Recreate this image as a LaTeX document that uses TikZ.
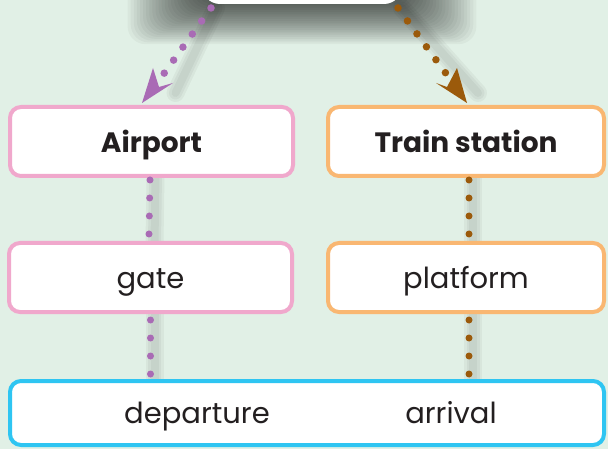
\documentclass[tikz,border=0pt]{standalone}
\usepackage{fontspec}
\setmainfont{Poppins}
\usetikzlibrary{calc}
\pgfdeclarelayer{background}
\pgfdeclarelayer{shade}
\pgfsetlayers{background,shade,main}
\definecolor{bg}{HTML}{E1F0E6}
\definecolor{pinkc}{HTML}{F0A8CC}
\definecolor{orangec}{HTML}{F9B772}
\definecolor{bluec}{HTML}{2EC5F2}
\definecolor{purplec}{HTML}{A96BB5}
\definecolor{brownc}{HTML}{9B5A0B}
\definecolor{ink}{HTML}{231F20}
\tikzset{
  box/.style={draw, fill=white, rounded corners=11pt, line width=4pt, outer sep=0pt,
    minimum width=283pt, minimum height=69pt, inner sep=0pt, text=ink},
  headtext/.style={font=\fontsize{28}{32}\selectfont\bfseries, text height=22pt, text depth=0pt},
  plaintext/.style={font=\fontsize{29}{33}\selectfont, text=ink, text height=21pt, text depth=0pt},
  vdots/.style={line width=7pt, line cap=round, dash pattern=on 0pt off 18pt},
  ddots/.style={line width=7.5pt, line cap=round, dash pattern=on 0pt off 16.04pt},
  softshade/.style={line width=#1, draw=black, draw opacity=0.04, line cap=round}
}
\begin{document}
\begin{tikzpicture}[x=1pt,y=1pt]
\useasboundingbox (0,0) rectangle (608,-449);
\begin{pgfonlayer}{background}
\fill[bg] (0,0) rectangle (608,-449);
\end{pgfonlayer}
% shadow of the top (cut off) box
\begin{pgfonlayer}{shade}
\foreach \i in {1,...,24} {
  \fill[black, opacity=0.035, rounded corners=18pt]
    ({302-100-\i*3.1},40) rectangle ({302+100+\i*3.1},{-1-\i*1.8});
}
\end{pgfonlayer}
% top (cut off) box
\node[fill=white, rounded corners=18pt, minimum width=200pt, minimum height=70pt, outer sep=0pt] (top) at (302,31) {};
% boxes
\node[box, draw=pinkc, headtext] (airport) at (151.5,-141.5) {Airport};
\node[box, draw=orangec, headtext, minimum width=276pt] (train) at (466,-141.5) {Train station};
\node[box, draw=pinkc, plaintext] (gate) at (150.5,-277.5) {gate};
\node[box, draw=orangec, plaintext, minimum width=276pt] (platform) at (466,-277.5) {platform};
\node[box, draw=bluec, minimum width=594pt, minimum height=64pt] (bot) at (307,-413) {};
\node[plaintext] (departure) at (197,-413) {departure};
\node[plaintext] (arrival) at (451,-413) {arrival};
% soft shadows of connectors
\begin{pgfonlayer}{shade}
\foreach \w in {8,13,18} {
  \draw[softshade=\w pt] ([xshift=-86pt,yshift=-4pt]top.south) -- ([xshift=24pt,yshift=14pt]airport.north);
  \draw[softshade=\w pt] ([xshift=100pt,yshift=-4pt]top.south) -- ([xshift=12pt,yshift=14pt]train.north);
  \draw[softshade=\w pt] ([xshift=4pt]airport.south) -- ([xshift=4pt]gate.north);
  \draw[softshade=\w pt] ([xshift=4pt]gate.south) -- ([xshift=4pt]gate.south |- bot.north);
  \draw[softshade=\w pt] ([xshift=7pt]train.south) -- ([xshift=7pt]platform.north);
  \draw[softshade=\w pt] ([xshift=7pt]platform.south) -- ([xshift=7pt]platform.south |- bot.north);
}
\end{pgfonlayer}
% diagonal arrows
\draw[ddots, purplec] ([xshift=-91pt,yshift=-4pt]top.south) -- ([xshift=12.5pt,yshift=33.5pt]airport.north);
\fill[purplec] ([xshift=-9.5pt,yshift=4pt]airport.north) -- ++(11,35) -- ++(6,-19) -- ++(14,4) -- cycle;
\draw[ddots, brownc] ([xshift=96pt,yshift=-4pt]top.south) -- ([xshift=-20pt,yshift=33.5pt]train.north);
\fill[brownc] ([xshift=1pt,yshift=4pt]train.north) -- ++(-10,35) -- ++(-10,-19) -- ++(-11,4) -- cycle;
% vertical dotted connectors
\draw[vdots, purplec] ([xshift=-1.5pt,yshift=-4pt]airport.south) -- ([xshift=-1.5pt,yshift=8.5pt]gate.north);
\draw[vdots, purplec] ([yshift=-8pt]gate.south) -- ([yshift=6.5pt]gate.south |- bot.north);
\draw[vdots, brownc] ([xshift=3pt,yshift=-4pt]train.south) -- ([xshift=3pt,yshift=8.5pt]platform.north);
\draw[vdots, brownc] ([xshift=3pt,yshift=-8pt]platform.south) -- ([xshift=3pt,yshift=6.5pt]platform.south |- bot.north);
\end{tikzpicture}
\end{document}
